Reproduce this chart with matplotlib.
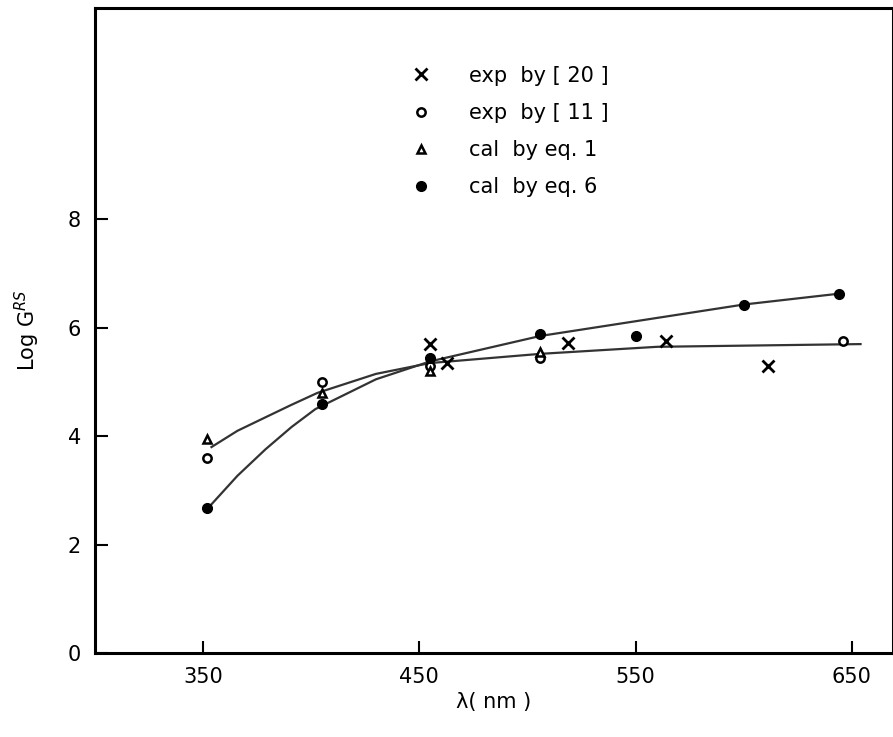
import numpy as np
import matplotlib.pyplot as plt

# --- dados ---
x_exp20 = [455, 463, 519, 564, 611]
y_exp20 = [5.7, 5.35, 5.72, 5.76, 5.3]

x_exp11 = [352, 405, 455, 506, 646]
y_exp11 = [3.6, 5.0, 5.3, 5.45, 5.76]

x_eq1 = [352, 405, 455, 506]
y_eq1 = [3.95, 4.8, 5.2, 5.55]

x_eq6 = [352, 405, 455, 506, 550, 600, 644]
y_eq6 = [2.68, 4.6, 5.45, 5.88, 5.85, 6.43, 6.63]

# curvas desenhadas à mão no original
x_curve_a = [353, 366, 379, 391, 402, 430, 455, 506, 600, 644]
y_curve_a = [2.7, 3.27, 3.76, 4.17, 4.5, 5.05, 5.38, 5.85, 6.43, 6.63]
x_curve_b = [354, 366, 379, 391, 403, 430, 455, 506, 560, 654]
y_curve_b = [3.8, 4.1, 4.35, 4.58, 4.8, 5.15, 5.35, 5.52, 5.65, 5.7]

xticks = [350, 450, 550, 650]
yticks = [0, 2, 4, 6, 8]

# --- gráfico ---
fig = plt.figure(figsize=(8.93, 7.37), dpi=100)
ax = fig.add_axes([0.106, 0.114, 0.894, 0.875])

ax.plot(x_curve_a, y_curve_a, color='#333333', lw=1.6)
ax.plot(x_curve_b, y_curve_b, color='#333333', lw=1.6)

ax.plot(x_exp20, y_exp20, 'x', color='black', ms=9, mew=2, ls='none',
        label='exp  by [ 20 ]')
ax.plot(x_exp11, y_exp11, 'o', mfc='white', mec='black', ms=6, mew=1.8, ls='none',
        label='exp  by [ 11 ]')
ax.plot(x_eq1, y_eq1, '^', mfc='white', mec='black', ms=6, mew=1.8, ls='none',
        label='cal  by eq. 1')
ax.plot(x_eq6, y_eq6, 'o', color='black', ms=7, ls='none',
        label='cal  by eq. 6')

ax.set_xlim(300, 669)
ax.set_ylim(0, 11.9)
ax.set_xticks(xticks)
ax.set_yticks(yticks)
ax.tick_params(direction='in', length=9, width=1.5, labelsize=15, pad=10)
for s in ax.spines.values():
    s.set_linewidth(2.2)

ax.set_xlabel('λ( nm )', fontsize=15)
ax.set_ylabel('Log G$^{RS}$', fontsize=15, labelpad=18)

ax.legend(loc='upper left', bbox_to_anchor=(0.372, 0.94), frameon=False,
          fontsize=15, handletextpad=1.8, labelspacing=0.83, handlelength=1.0)

plt.savefig('out.png')
